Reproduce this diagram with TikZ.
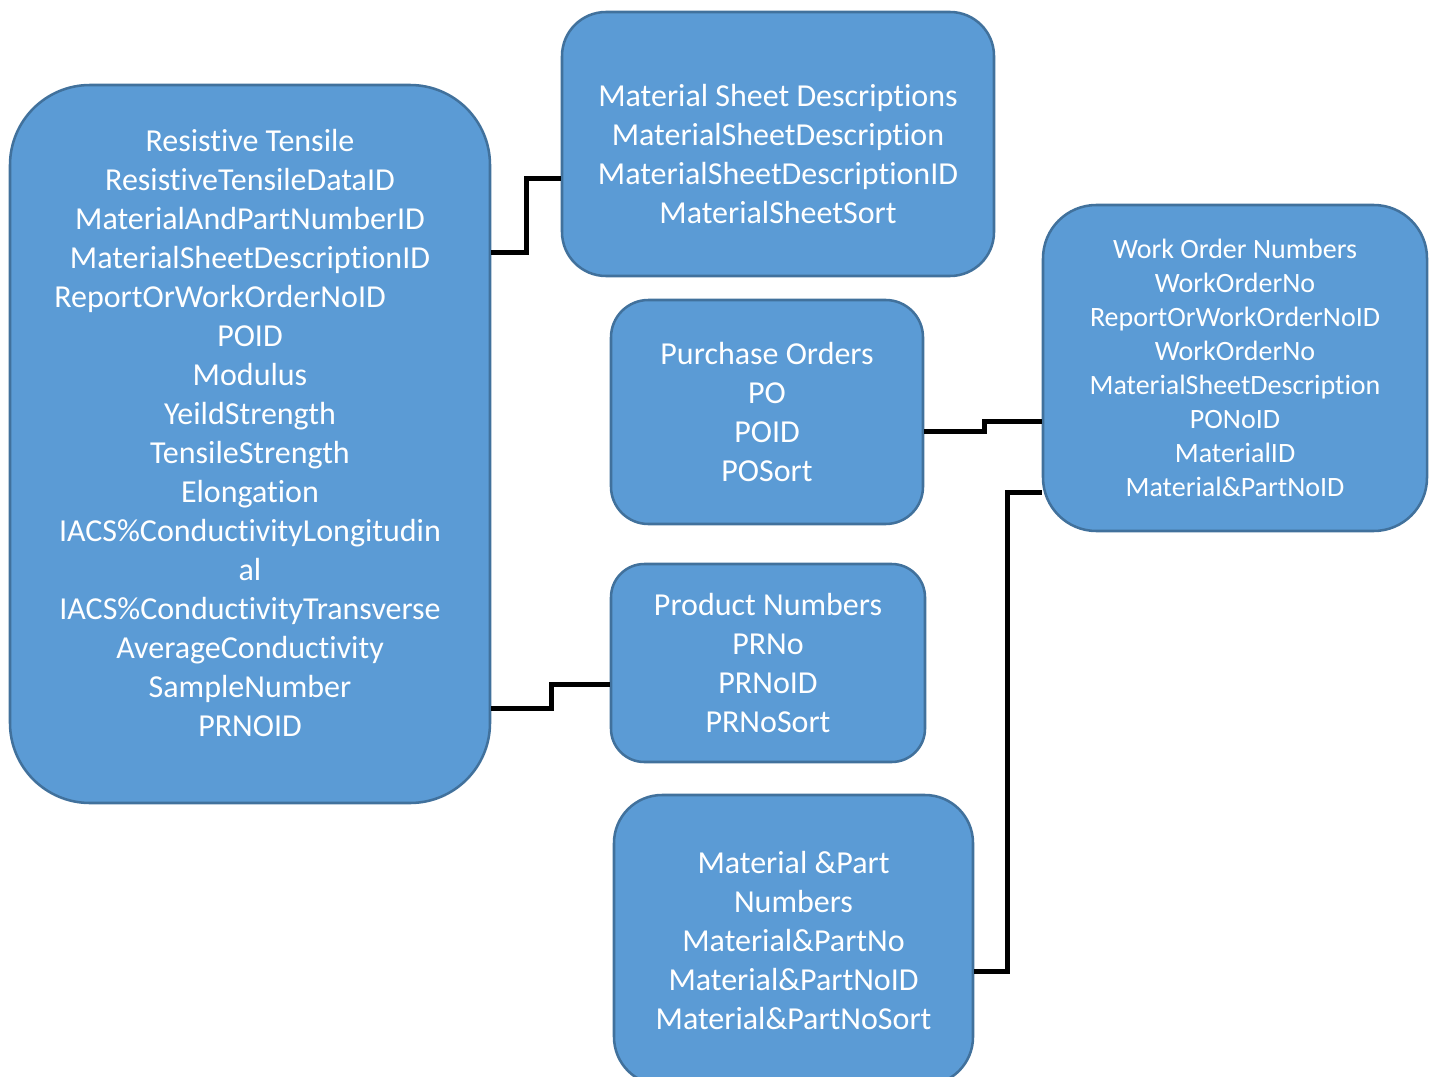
\documentclass[tikz,border=0pt]{standalone}
\usepackage{fontspec}
\setmainfont{Carlito}[Ligatures={NoCommon}]
\definecolor{tablefill}{HTML}{5B9BD5}
\definecolor{tableline}{HTML}{41719C}

\begin{document}
\begin{tikzpicture}[
  x=0.75pt,
  y=-0.75pt,
  table/.style={
    rectangle,
    draw=tableline,
    fill=tablefill,
    line width=1.9pt,
    text=white,
    align=center,
    inner sep=0pt,
    font=\fontsize{24}{29.25}\selectfont
  },
  smalltable/.style={
    table,
    font=\fontsize{21}{25.5}\selectfont
  },
  link/.style={draw=black, line width=3.75pt}
]

% Page frame; the lowest table runs past the bottom edge.
\clip (0,0) rectangle (1434,1077);

% ---------------------------------------------------------------------------
% Tables
% ---------------------------------------------------------------------------
\node[table, minimum width=360pt, minimum height=538.5pt, rounded corners=60pt]
  (rt) at (250,444) {Resistive Tensile\\ResistiveTensileDataID\\
  MaterialAndPartNumberID\\MaterialSheetDescriptionID\\
  ReportOrWorkOrderNoID\rule{45pt}{0pt}\\
  POID\\Modulus\\YeildStrength\\TensileStrength\\Elongation\\
  IACS\%ConductivityLongitudin\\al\\IACS\%ConductivityTransverse\\
  AverageConductivity\\SampleNumber\\PRNOID\rule[-17pt]{0pt}{17pt}};

\node[table, minimum width=324pt, minimum height=198pt, rounded corners=33pt]
  (msd) at (778,144) {\rule{0pt}{32pt}Material Sheet Descriptions\\
  MaterialSheetDescription\\MaterialSheetDescriptionID\\MaterialSheetSort};

\node[table, minimum width=234pt, minimum height=168pt, rounded corners=28pt]
  (po) at (767,412) {Purchase Orders\\PO\\POID\\POSort};

\node[table, minimum width=235.5pt, minimum height=148.5pt, rounded corners=25pt]
  (prn) at (768,663) {Product Numbers\\PRNo\\PRNoID\\PRNoSort};

\node[table, minimum width=269.25pt, minimum height=217.5pt, rounded corners=36pt]
  (mpn) at (793.5,940) {Material \&Part\\Numbers\\Material\&PartNo\\
  Material\&PartNoID\\Material\&PartNoSort};

\node[smalltable, minimum width=288pt, minimum height=244.5pt, rounded corners=40pt]
  (won) at (1235,368) {Work Order Numbers\\WorkOrderNo\\ReportOrWorkOrderNoID\\
  WorkOrderNo\\MaterialSheetDescription\\PONoID\\MaterialID\\Material\&PartNoID};

% ---------------------------------------------------------------------------
% Relations
% ---------------------------------------------------------------------------
\draw[link] (rt.east |- 0,252) -- (526,252) |- (msd.west |- 0,179);
\draw[link] (rt.east |- 0,708) -- (551,708) |- (prn.west |- 0,684);
\draw[link] (po.east |- 0,431) -- (984,431) |- (won.west |- 0,421);
\draw[link] (mpn.east |- 0,971) -- (1007,971) |- (won.west |- 0,492);

\end{tikzpicture}
\end{document}
